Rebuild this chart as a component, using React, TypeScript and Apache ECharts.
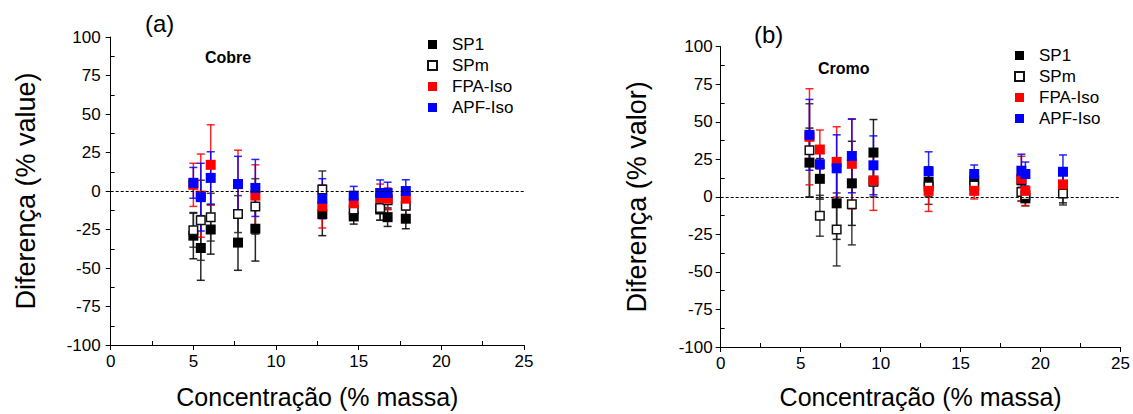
import React, { useEffect, useRef } from "react";
import * as echarts from "echarts";

const FONT = "'Liberation Sans', Arial, sans-serif";

const seriesNames = ["SP1", "SPm", "FPA-Iso", "APF-Iso"];
const xTickLabels = ["0", "5", "10", "15", "20", "25"];

// Panel (a) Cobre
const cuX = [5.0, 5.45, 6.05, 7.7, 8.75, 12.8, 14.7, 16.3, 16.75, 17.85];
const cuSP1 = [-29, -37, -25, -33.5, -24.5, -15, -16.5, -12, -17, -18];
const cuSP1Err = [15, 21, 16, 18, 21, 14, 5, 7, 6, 6.5];
const cuSPm = [-25.5, -19, -17, -15, -10, 1, -12, -11, -6, -9.6];
const cuSPmErr = [11, 26, 15.5, 12, 18, 12, 4, 8, 6, 7];
const cuFPA = [4, -3, 17, 4.5, -3, -10, -8, -4.5, -5, -5];
const cuFPAErr = [14, 27, 26, 22, 20, 14, 6, 9, 7, 7.5];
const cuAPF = [5.3, -4, 8.5, 4.5, 2, -5, -3, -1.3, -1.3, 0];
const cuAPFErr = [10, 22, 17, 18, 18.5, 13, 6, 8.5, 7, 7.3];

// Panel (b) Cromo
const crX = [5.55, 6.2, 7.25, 8.2, 9.55, 13.0, 15.85, 18.8, 19.05, 21.4];
const crSP1 = [22.8, 12, -4.3, 9, 29.5, 10, 11, 11, -1, 7];
const crSP1Err = [23, 13.5, 24, 28, 22, 10, 5, 8.7, 5, 11];
const crSPm = [31, -12.6, -21.7, -5, 10, 7, 7.6, 3.3, 1, 2.2];
const crSPmErr = [31, 13.6, 24.3, 27, 10, 12, 4, 6, 4, 7.6];
const crFPA = [40, 31.5, 23.3, 22, 11, 4, 4, 12, 4, 8.3];
const crFPAErr = [32, 13, 23.4, 30, 20, 13.7, 5.4, 15, 9.8, 8.7];
const crAPF = [41.3, 21.7, 19, 27.2, 21, 17, 15.2, 17.4, 15.2, 16.7];
const crAPFErr = [23.6, 11.2, 22.3, 24.5, 19.6, 13, 6, 11, 8, 11.2];

const markerColors = ["#000000", "#ffffff", "#ff0000", "#0000ff"];
const barColors = ["#000000", "#222222", "#ff0000", "#0000ff"];

function errorRender(color: string) {
  return (params: any, api: any) => {
    const x = api.value(0);
    const lo = api.value(1);
    const hi = api.value(2);
    const top = api.coord([x, hi]);
    const bot = api.coord([x, lo]);
    const w = 4;
    const style = { stroke: color, lineWidth: 1.5, opacity: 0.85 };
    return {
      type: "group",
      children: [
        { type: "line", shape: { x1: top[0], y1: top[1], x2: bot[0], y2: bot[1] }, style },
        { type: "line", shape: { x1: top[0] - w, y1: top[1], x2: top[0] + w, y2: top[1] }, style },
        { type: "line", shape: { x1: bot[0] - w, y1: bot[1], x2: bot[0] + w, y2: bot[1] }, style },
      ],
    };
  };
}

function xAxisFor(gridIndex: number, nameGap: number) {
  return {
    type: "value",
    gridIndex,
    min: 0,
    max: 25,
    interval: 5,
    name: "Concentração (% massa)",
    nameLocation: "middle",
    nameGap,
    nameTextStyle: { fontSize: 25, color: "#000", fontFamily: FONT },
    axisLine: { show: true, onZero: false, lineStyle: { color: "#000", width: 1 } },
    axisTick: { show: true, length: 5, lineStyle: { color: "#000" } },
    minorTick: { show: true, splitNumber: 2, length: -4, lineStyle: { color: "#000" } },
    axisLabel: {
      fontSize: 17,
      color: "#000",
      margin: 8,
      fontFamily: FONT,
      formatter: (v: number) => xTickLabels[Math.round(v / 5)] ?? String(v),
    },
    splitLine: { show: false },
    minorSplitLine: { show: false },
  };
}

function yAxisFor(gridIndex: number, name: string, nameGap: number, margin: number) {
  return {
    type: "value",
    gridIndex,
    min: -100,
    max: 100,
    interval: 25,
    name,
    nameLocation: "middle",
    nameGap,
    nameTextStyle: { fontSize: 27, color: "#000", fontFamily: FONT },
    axisLine: { show: true, onZero: false, lineStyle: { color: "#000", width: 1 } },
    axisTick: { show: true, length: 5, lineStyle: { color: "#000" } },
    minorTick: { show: true, splitNumber: 2, length: -4, lineStyle: { color: "#000" } },
    axisLabel: { fontSize: 17, color: "#000", margin, fontFamily: FONT },
    splitLine: { show: false },
    minorSplitLine: { show: false },
  };
}

function panelSeries(
  idx: number,
  xs: number[],
  vals: number[][],
  errs: number[][]
) {
  const out: any[] = [];
  for (let s = 0; s < 4; s++) {
    out.push({
      type: "custom",
      name: seriesNames[s] + " err " + idx,
      xAxisIndex: idx,
      yAxisIndex: idx,
      z: 2,
      silent: true,
      renderItem: errorRender(barColors[s]),
      encode: { x: 0, y: [1, 2] },
      data: xs.map((x, i) => [x, vals[s][i] - errs[s][i], vals[s][i] + errs[s][i]]),
    });
  }
  for (let s = 0; s < 4; s++) {
    const ser: any = {
      type: "scatter",
      name: seriesNames[s],
      xAxisIndex: idx,
      yAxisIndex: idx,
      z: 3,
      symbol: "rect",
      symbolSize: s === 1 ? 8.5 : 10,
      itemStyle:
        s === 1
          ? { color: "#ffffff", borderColor: "#111", borderWidth: 1.5, opacity: 1 }
          : { color: markerColors[s], opacity: 1 },
      data: xs.map((x, i) => [x, vals[s][i]]),
    };
    if (s === 0) {
      ser.markLine = {
        silent: true,
        symbol: "none",
        label: { show: false },
        lineStyle: { color: "#000", width: 1, type: [3, 2] },
        data: [{ yAxis: 0 }],
      };
    }
    out.push(ser);
  }
  return out;
}

function legendFor(left: number, top: number) {
  return {
    data: seriesNames,
    orient: "vertical",
    left,
    top,
    itemWidth: 9,
    itemHeight: 9,
    itemGap: 4,
    selectedMode: false,
    textStyle: { fontSize: 17, color: "#000", fontFamily: FONT, padding: [0, 0, 0, 10] },
  };
}

export default function App() {
  const ref = useRef<HTMLDivElement>(null);
  useEffect(() => {
    if (!ref.current) return;
    const chart = echarts.init(ref.current, undefined, { renderer: "svg" });
    const option: any = {
      animation: false,
      backgroundColor: "#ffffff",
      grid: [
        { left: 110.7, top: 37, width: 413.3, height: 313.7 },
        { left: 720.7, top: 46.7, width: 403.3, height: 306.6 },
      ],
      xAxis: [xAxisFor(0, 39), xAxisFor(1, 37)],
      yAxis: [
        yAxisFor(0, "Diferença (% value)", 71, 10),
        yAxisFor(1, "Diferença (% valor)", 70, 8),
      ],
      legend: [legendFor(422, 31), legendFor(1009, 42)],
      graphic: [
        { type: "text", x: 145, y: 23, style: { text: "(a)", fontSize: 24, fontFamily: FONT, fill: "#000", verticalAlign: "middle" } },
        { type: "text", x: 205, y: 57, style: { text: "Cobre", fontSize: 16, fontWeight: "bold", fontFamily: FONT, fill: "#000", verticalAlign: "middle" } },
        { type: "text", x: 754, y: 34, style: { text: "(b)", fontSize: 24, fontFamily: FONT, fill: "#000", verticalAlign: "middle" } },
        { type: "text", x: 818, y: 68, style: { text: "Cromo", fontSize: 16, fontWeight: "bold", fontFamily: FONT, fill: "#000", verticalAlign: "middle" } },
      ],
      series: [
        ...panelSeries(0, cuX, [cuSP1, cuSPm, cuFPA, cuAPF], [cuSP1Err, cuSPmErr, cuFPAErr, cuAPFErr]),
        ...panelSeries(1, crX, [crSP1, crSPm, crFPA, crAPF], [crSP1Err, crSPmErr, crFPAErr, crAPFErr]),
      ],
    };
    chart.setOption(option);
    return () => chart.dispose();
  }, []);
  return (
    <div
      ref={ref}
      style={{ position: "absolute", left: 0, top: 0, width: 1133, height: 414, background: "#fff" }}
    />
  );
}
